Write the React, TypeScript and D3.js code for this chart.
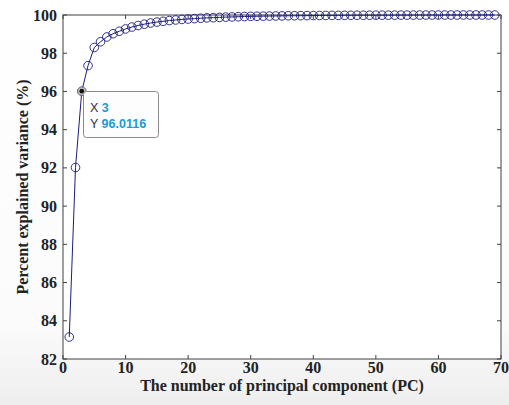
import React from "react";
import * as d3 from "d3";

const pcIndex: number[] = Array.from({ length: 69 }, (_, i) => i + 1);
const explained: number[] = [
  83.15, 92.02, 96.0116, 97.35, 98.3, 98.6, 98.85, 99.02, 99.15, 99.27,
  99.37, 99.45, 99.52, 99.58, 99.63, 99.67, 99.71, 99.74, 99.77, 99.79,
  99.81, 99.83, 99.85, 99.86, 99.875, 99.89, 99.9, 99.91, 99.92, 99.93,
  99.935, 99.94, 99.945, 99.95, 99.955, 99.96, 99.963, 99.966, 99.969, 99.972,
  99.975, 99.977, 99.979, 99.981, 99.983, 99.985, 99.987, 99.988, 99.989, 99.99,
  99.991, 99.992, 99.993, 99.994, 99.995, 99.996, 99.997, 99.997, 99.998, 99.998,
  99.999, 99.999, 99.999, 100, 100, 100, 100, 100, 100,
];
const xTicks: number[] = [0, 10, 20, 30, 40, 50, 60, 70];
const yTicks: number[] = [82, 84, 86, 88, 90, 92, 94, 96, 98, 100];
const tipIndex = 2;

export default function App() {
  const W = 509, H = 405;
  const left = 63, right = 501, top = 15, bottom = 359;
  const x = d3.scaleLinear().domain([0, 70]).range([left, right]);
  const y = d3.scaleLinear().domain([82, 100]).range([bottom, top]);
  const line = d3.line<number>().x((_, i) => x(pcIndex[i])).y((d) => y(d));
  const serif = "'Liberation Serif', 'Times New Roman', serif";
  const axisColor = "#404040";
  const navy = "#1c1c80";
  const tx = x(pcIndex[tipIndex]);
  const ty = y(explained[tipIndex]);
  return (
    <svg width={W} height={H} style={{ position: "absolute", left: 0, top: 0 }}>
      <defs>
        <linearGradient id="bg" x1="0" y1="0" x2="0" y2="1">
          <stop offset="0" stopColor="#ffffff" />
          <stop offset="0.8" stopColor="#fbfbfb" />
          <stop offset="1" stopColor="#eeeeee" />
        </linearGradient>
      </defs>
      <rect x={0} y={0} width={W} height={H} fill="url(#bg)" />
      <rect x={left} y={top} width={right - left} height={bottom - top} fill="#ffffff" />
      <rect x={left} y={top} width={right - left} height={bottom - top} fill="none" stroke={axisColor} strokeWidth={1} />
      {xTicks.map((t) => (
        <g key={"xt" + t}>
          <line x1={x(t)} x2={x(t)} y1={bottom} y2={bottom - 4} stroke={axisColor} />
          <line x1={x(t)} x2={x(t)} y1={top} y2={top + 4} stroke={axisColor} />
          <text x={x(t)} y={373} textAnchor="middle" fontFamily={serif} fontWeight="bold" fontSize={16} fill="#222">
            {t}
          </text>
        </g>
      ))}
      {yTicks.map((t) => (
        <g key={"yt" + t}>
          <line x1={left} x2={left + 4} y1={y(t)} y2={y(t)} stroke={axisColor} />
          <line x1={right} x2={right - 4} y1={y(t)} y2={y(t)} stroke={axisColor} />
          <text x={57} y={y(t) + 5.5} textAnchor="end" fontFamily={serif} fontWeight="bold" fontSize={16} fill="#222">
            {t}
          </text>
        </g>
      ))}
      <text x={(left + right) / 2} y={391} textAnchor="middle" fontFamily={serif} fontWeight="bold" fontSize={16} fill="#222">
        The number of principal component (PC)
      </text>
      <text
        transform={`translate(28, ${(top + bottom) / 2}) rotate(-90)`}
        textAnchor="middle"
        fontFamily={serif}
        fontWeight="bold"
        fontSize={16}
        fill="#222"
      >
        Percent explained variance (%)
      </text>
      <path d={line(explained) || ""} fill="none" stroke={navy} strokeWidth={1} />
      {explained.map((v, i) => (
        <circle key={"m" + i} cx={x(pcIndex[i])} cy={y(v)} r={4.3} fill="none" stroke={navy} strokeWidth={0.9} />
      ))}
      <circle cx={tx} cy={ty} r={4} fill="#cccccc" stroke="#888" strokeWidth={0.8} />
      <circle cx={tx} cy={ty} r={2.4} fill="#111" />
      <rect x={83.5} y={91.5} width={75} height={46} rx={3} fill="#fdfdfd" stroke="#8a8a8a" strokeWidth={1} />
      <text x={90} y={112} fontFamily="'Liberation Sans', Arial, sans-serif" fontSize={12.5} fill="#333">
        X <tspan fill="#1a9bd7" fontWeight="bold">{pcIndex[tipIndex]}</tspan>
      </text>
      <text x={90} y={128} fontFamily="'Liberation Sans', Arial, sans-serif" fontSize={12.5} fill="#333">
        Y <tspan fill="#1a9bd7" fontWeight="bold">{explained[tipIndex].toFixed(4)}</tspan>
      </text>
    </svg>
  );
}
